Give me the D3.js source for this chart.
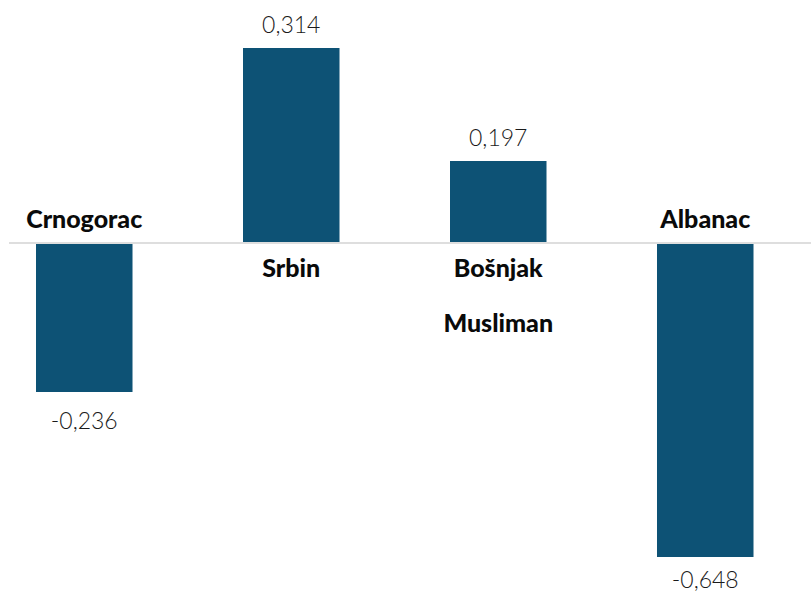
<!DOCTYPE html>
<html>
<head>
<meta charset="utf-8">
<script src="https://cdn.jsdelivr.net/npm/d3@7"></script>
<style>
  body { margin: 0; background: #fff; }
  #chart { width: 811px; height: 592px; }
</style>
</head>
<body>
<div id="chart"></div>
<script>
// Categories (multi-line names split on |)
const categories = ['Crnogorac', 'Srbin', 'Bošnjak|Musliman', 'Albanac'];
// Printed value labels
const valueLabels = [-0.236, 0.314, 0.197, -0.648];
// Bar lengths as they appear in the picture (they are not drawn to the printed values)
const barValues = [-0.300, 0.388, 0.162, -0.630];

const width = 811;
const height = 592;

const svg = d3.select('#chart')
  .append('svg')
  .attr('width', width)
  .attr('height', height);

const x = d3.scaleBand()
  .domain(categories)
  .range([36, 753.5])
  .paddingInner(0.5338)
  .paddingOuter(0);

const y = d3.scaleLinear()
  .domain([-0.7, 0.484])
  .range([height, 0]);

const fmt = (v) => d3.format('.3f')(v).replace('.', ',').replace('−', '-');

// Bars
svg.append('g')
  .selectAll('rect')
  .data(categories)
  .enter()
  .append('rect')
  .attr('x', (d) => x(d))
  .attr('width', x.bandwidth())
  .attr('y', (d, i) => Math.min(y(0), y(barValues[i])))
  .attr('height', (d, i) => Math.abs(y(barValues[i]) - y(0)))
  .attr('fill', '#0d5275');

// Zero line
svg.append('line')
  .attr('x1', 9)
  .attr('x2', width)
  .attr('y1', y(0) + 1)
  .attr('y2', y(0) + 1)
  .attr('stroke', '#dedede')
  .attr('stroke-width', 2);

// Value labels (kept inside the picture at the bottom)
svg.append('g')
  .selectAll('text')
  .data(categories)
  .enter()
  .append('text')
  .attr('x', (d) => x(d) + x.bandwidth() / 2)
  .attr('y', (d, i) => barValues[i] >= 0
    ? y(barValues[i]) - 15
    : Math.min(y(barValues[i]) + 37, height - 4))
  .attr('text-anchor', 'middle')
  .attr('font-family', 'Lato, sans-serif')
  .attr('font-weight', 300)
  .attr('font-size', '23px')
  .attr('fill', '#1a1a1a')
  .text((d, i) => fmt(valueLabels[i]));

// Category labels: above the zero line for negative bars, below for positive
categories.forEach((cat, i) => {
  const lines = cat.split('|');
  const cx = x(cat) + x.bandwidth() / 2;
  const t = svg.append('text')
    .attr('text-anchor', 'middle')
    .attr('font-family', 'Lato, sans-serif')
    .attr('font-weight', 900)
    .attr('font-size', '25px')
    .attr('fill', '#0a0a0a');
  lines.forEach((line, j) => {
    t.append('tspan')
      .attr('x', cx)
      .attr('y', barValues[i] >= 0 ? y(0) + 35 + j * 55 : y(0) - 14)
      .text(line);
  });
});
</script>
</body>
</html>
